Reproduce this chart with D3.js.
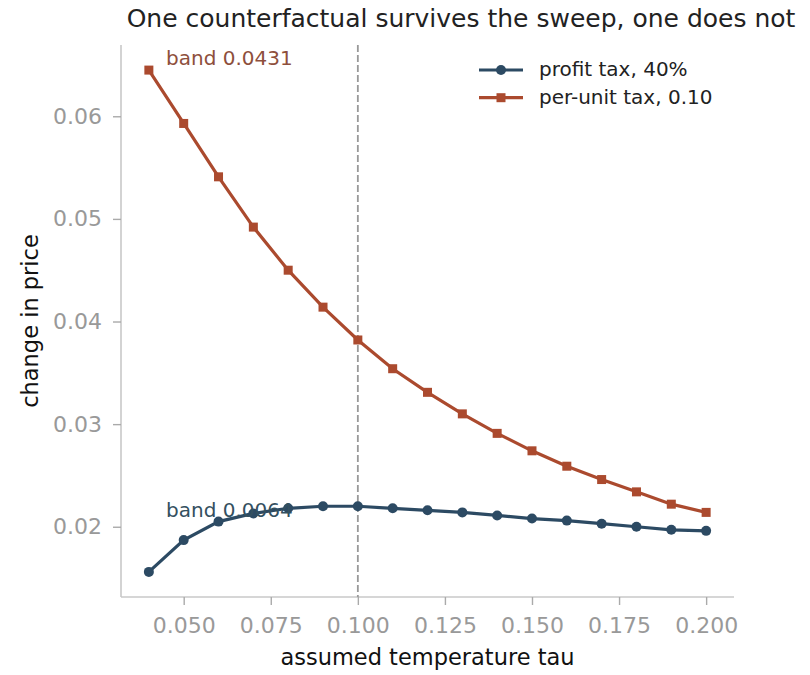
<!DOCTYPE html>
<html>
<head>
<meta charset="utf-8">
<script src="https://cdn.jsdelivr.net/npm/d3@7"></script>
<style>
  body { margin: 0; background: #fff; }
  svg { font-family: "DejaVu Sans", sans-serif; }
</style>
</head>
<body>
<svg id="canvas"></svg>
<script>
// sweep over the assumed temperature
const tau = [0.04, 0.05, 0.06, 0.07, 0.08, 0.09, 0.10, 0.11, 0.12, 0.13, 0.14, 0.15, 0.16, 0.17, 0.18, 0.19, 0.20];
const profitTax = [0.0156, 0.0187, 0.0205, 0.0213, 0.0218, 0.0220, 0.0220, 0.0218, 0.0216, 0.0214, 0.0211, 0.0208, 0.0206, 0.0203, 0.0200, 0.0197, 0.0196];
const perUnitTax = [0.0645, 0.0593, 0.0541, 0.0492, 0.0450, 0.0414, 0.0382, 0.0354, 0.0331, 0.0310, 0.0291, 0.0274, 0.0259, 0.0246, 0.0234, 0.0222, 0.0214];
const seriesNames = ['profit tax, 40%', 'per-unit tax, 0.10'];
const bandLabels = ['band 0.0064', 'band 0.0431'];
const xTicks = [0.05, 0.075, 0.1, 0.125, 0.15, 0.175, 0.2];
const yTicks = [0.02, 0.03, 0.04, 0.05, 0.06];
const refTau = 0.10;

const w = 810, h = 675;
const padL = 121, padR = 734, padT = 45, padB = 597;
const blue = '#2c4a63', red = '#ab4a2e', grey = '#999';

const svg = d3.select('#canvas').attr('width', w).attr('height', h);

// matplotlib-style 5% margins
const xPad = (d3.max(tau) - d3.min(tau)) * 0.05;
const allY = profitTax.concat(perUnitTax);
const yPad = (d3.max(allY) - d3.min(allY)) * 0.05;

const xScale = d3.scaleLinear().domain([d3.min(tau) - xPad, d3.max(tau) + xPad]).range([padL, padR]);
const yScale = d3.scaleLinear().domain([d3.min(allY) - yPad, d3.max(allY) + yPad]).range([padB, padT]);

// axes
const xAxis = d3.axisBottom(xScale).tickValues(xTicks).tickFormat(d3.format('.3f')).tickSize(8).tickPadding(12);
const yAxis = d3.axisLeft(yScale).tickValues(yTicks).tickFormat(d3.format('.2f')).tickSize(8).tickPadding(11);

const gx = svg.append('g').attr('transform', 'translate(0,' + padB + ')').call(xAxis);
const gy = svg.append('g').attr('transform', 'translate(' + padL + ',0)').call(yAxis);
[gx, gy].forEach(g => {
  g.select('.domain').attr('stroke', '#c8c8c8').attr('stroke-width', 1.6);
  g.selectAll('.tick line').attr('stroke', '#aaa').attr('stroke-width', 1.4);
  g.selectAll('.tick text').attr('fill', grey).style('font-size', '22px').style('font-family', '"DejaVu Sans", sans-serif');
});
gx.select('.domain').attr('d', 'M' + padL + ',0H' + padR);
gy.select('.domain').attr('d', 'M0,' + padT + 'V' + padB);

// reference line
svg.append('line')
  .attr('x1', xScale(refTau)).attr('x2', xScale(refTau))
  .attr('y1', padT).attr('y2', padB)
  .attr('stroke', grey).attr('stroke-width', 1.8).attr('stroke-dasharray', '7,3');

const line = d3.line().x((d, i) => xScale(tau[i])).y(d => yScale(d));

// per-unit tax
svg.append('path').datum(perUnitTax).attr('d', line)
  .attr('fill', 'none').attr('stroke', red).attr('stroke-width', 3.2);
svg.selectAll('rect.pt').data(perUnitTax).enter().append('rect')
  .attr('class', 'pt')
  .attr('x', (d, i) => xScale(tau[i]) - 4.5).attr('y', d => yScale(d) - 4.5)
  .attr('width', 9).attr('height', 9).attr('fill', red);

// profit tax
svg.append('path').datum(profitTax).attr('d', line)
  .attr('fill', 'none').attr('stroke', blue).attr('stroke-width', 3.2);
svg.selectAll('circle.pt').data(profitTax).enter().append('circle')
  .attr('class', 'pt')
  .attr('cx', (d, i) => xScale(tau[i])).attr('cy', d => yScale(d))
  .attr('r', 5).attr('fill', blue);

// band labels
svg.append('text').attr('x', 166).attr('y', 65).attr('fill', '#8e4f3c')
  .style('font-size', '20px').text(bandLabels[1]);
svg.append('text').attr('x', 166).attr('y', 517).attr('fill', '#34505f')
  .style('font-size', '20px').text(bandLabels[0]);

// legend
const legend = svg.append('g');
[[blue, 'circle'], [red, 'rect']].forEach((s, i) => {
  const y = 70 + i * 27.7;
  legend.append('line').attr('x1', 479).attr('x2', 523).attr('y1', y).attr('y2', y)
    .attr('stroke', s[0]).attr('stroke-width', 3.2);
  if (s[1] === 'circle') {
    legend.append('circle').attr('cx', 501).attr('cy', y).attr('r', 5).attr('fill', s[0]);
  } else {
    legend.append('rect').attr('x', 496.5).attr('y', y - 4.5).attr('width', 9).attr('height', 9).attr('fill', s[0]);
  }
  legend.append('text').attr('x', 539).attr('y', y + 6).attr('fill', '#222')
    .style('font-size', '20px').text(seriesNames[i]);
});

// titles
svg.append('text').attr('x', 461).attr('y', 27).attr('text-anchor', 'middle')
  .attr('fill', '#222').style('font-size', '25px')
  .text('One counterfactual survives the sweep, one does not');
svg.append('text').attr('x', (padL + padR) / 2).attr('y', 665).attr('text-anchor', 'middle')
  .attr('fill', '#111').style('font-size', '22.5px').text('assumed temperature tau');
svg.append('text').attr('transform', 'translate(38,' + ((padT + padB) / 2) + ') rotate(-90)')
  .attr('text-anchor', 'middle').attr('fill', '#111').style('font-size', '22.5px')
  .text('change in price');
</script>
</body>
</html>
